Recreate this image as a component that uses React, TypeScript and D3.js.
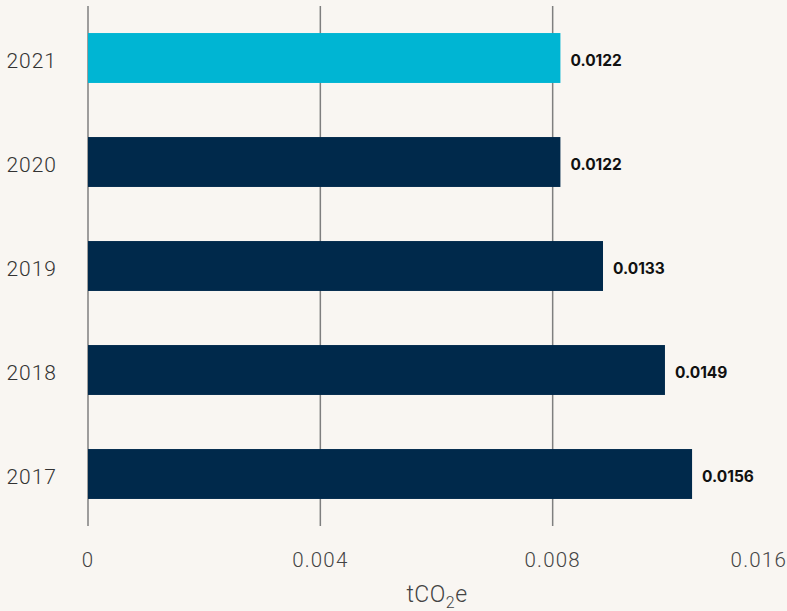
import React from "react";
import * as d3 from "d3";

const years = ["2021", "2020", "2019", "2018", "2017"];
const values = [0.0122, 0.0122, 0.0133, 0.0149, 0.0156];
const barColors = ["#00b5d3", "#00294b", "#00294b", "#00294b", "#00294b"];
const gridValues = [0, 0.006, 0.012];
const tickValues = [0, 0.006, 0.012, 0.018];
const tickLabels = ["0", "0.004", "0.008", "0.016"];
const valueLabels = ["0.0122", "0.0122", "0.0133", "0.0149", "0.0156"];

export default function App() {
  const W = 787, H = 611;
  const x = d3.scaleLinear().domain([0, 0.018]).range([88, 785]);
  const y = d3.scaleBand().domain(years).range([6, 526]).paddingInner(0.52).paddingOuter(0.26);
  const bw = y.bandwidth();
  return (
    <svg width={W} height={H} style={{ position: "absolute", left: 0, top: 0, background: "#f9f6f2" }}>
      <rect x={0} y={0} width={W} height={H} fill="#f9f6f2" />
      {gridValues.map((t, i) => (
        <line key={"g" + i} x1={x(t)} x2={x(t)} y1={6} y2={526} stroke="#7f7f7f" strokeWidth={1.5} />
      ))}
      {years.map((yr, i) => (
        <rect key={yr} x={x(0)} y={y(yr)} width={x(values[i]) - x(0)} height={bw} fill={barColors[i]} />
      ))}
      {years.map((yr, i) => (
        <text key={"v" + yr} x={x(values[i]) + 10} y={(y(yr) as number) + bw / 2 + 3} dy="0.35em"
          fontFamily="Inter, Roboto, sans-serif" fontWeight={700} fontSize={15.5} fill="#111">{valueLabels[i]}</text>
      ))}
      {years.map((yr) => (
        <text key={"y" + yr} x={57} y={(y(yr) as number) + bw / 2 + 3} dy="0.35em" textAnchor="end" letterSpacing={1}
          fontFamily="Roboto, sans-serif" fontWeight={300} fontSize={21} fill="#333">{yr}</text>
      ))}
      {tickValues.map((t, i) => (
        <text key={"t" + i} x={i === tickValues.length - 1 ? 787 : x(t)} y={567}
          textAnchor={i === tickValues.length - 1 ? "end" : "middle"} letterSpacing={1.2}
          fontFamily="Roboto, sans-serif" fontWeight={300} fontSize={20.5} fill="#444">{tickLabels[i]}</text>
      ))}
      <text x={437} y={602} textAnchor="middle" fontFamily="Roboto, sans-serif" fontWeight={300} fontSize={23} fill="#444" letterSpacing={0.5}>
        tCO<tspan fontSize={16} dy={6}>2</tspan><tspan dy={-6}>e</tspan>
      </text>
    </svg>
  );
}
